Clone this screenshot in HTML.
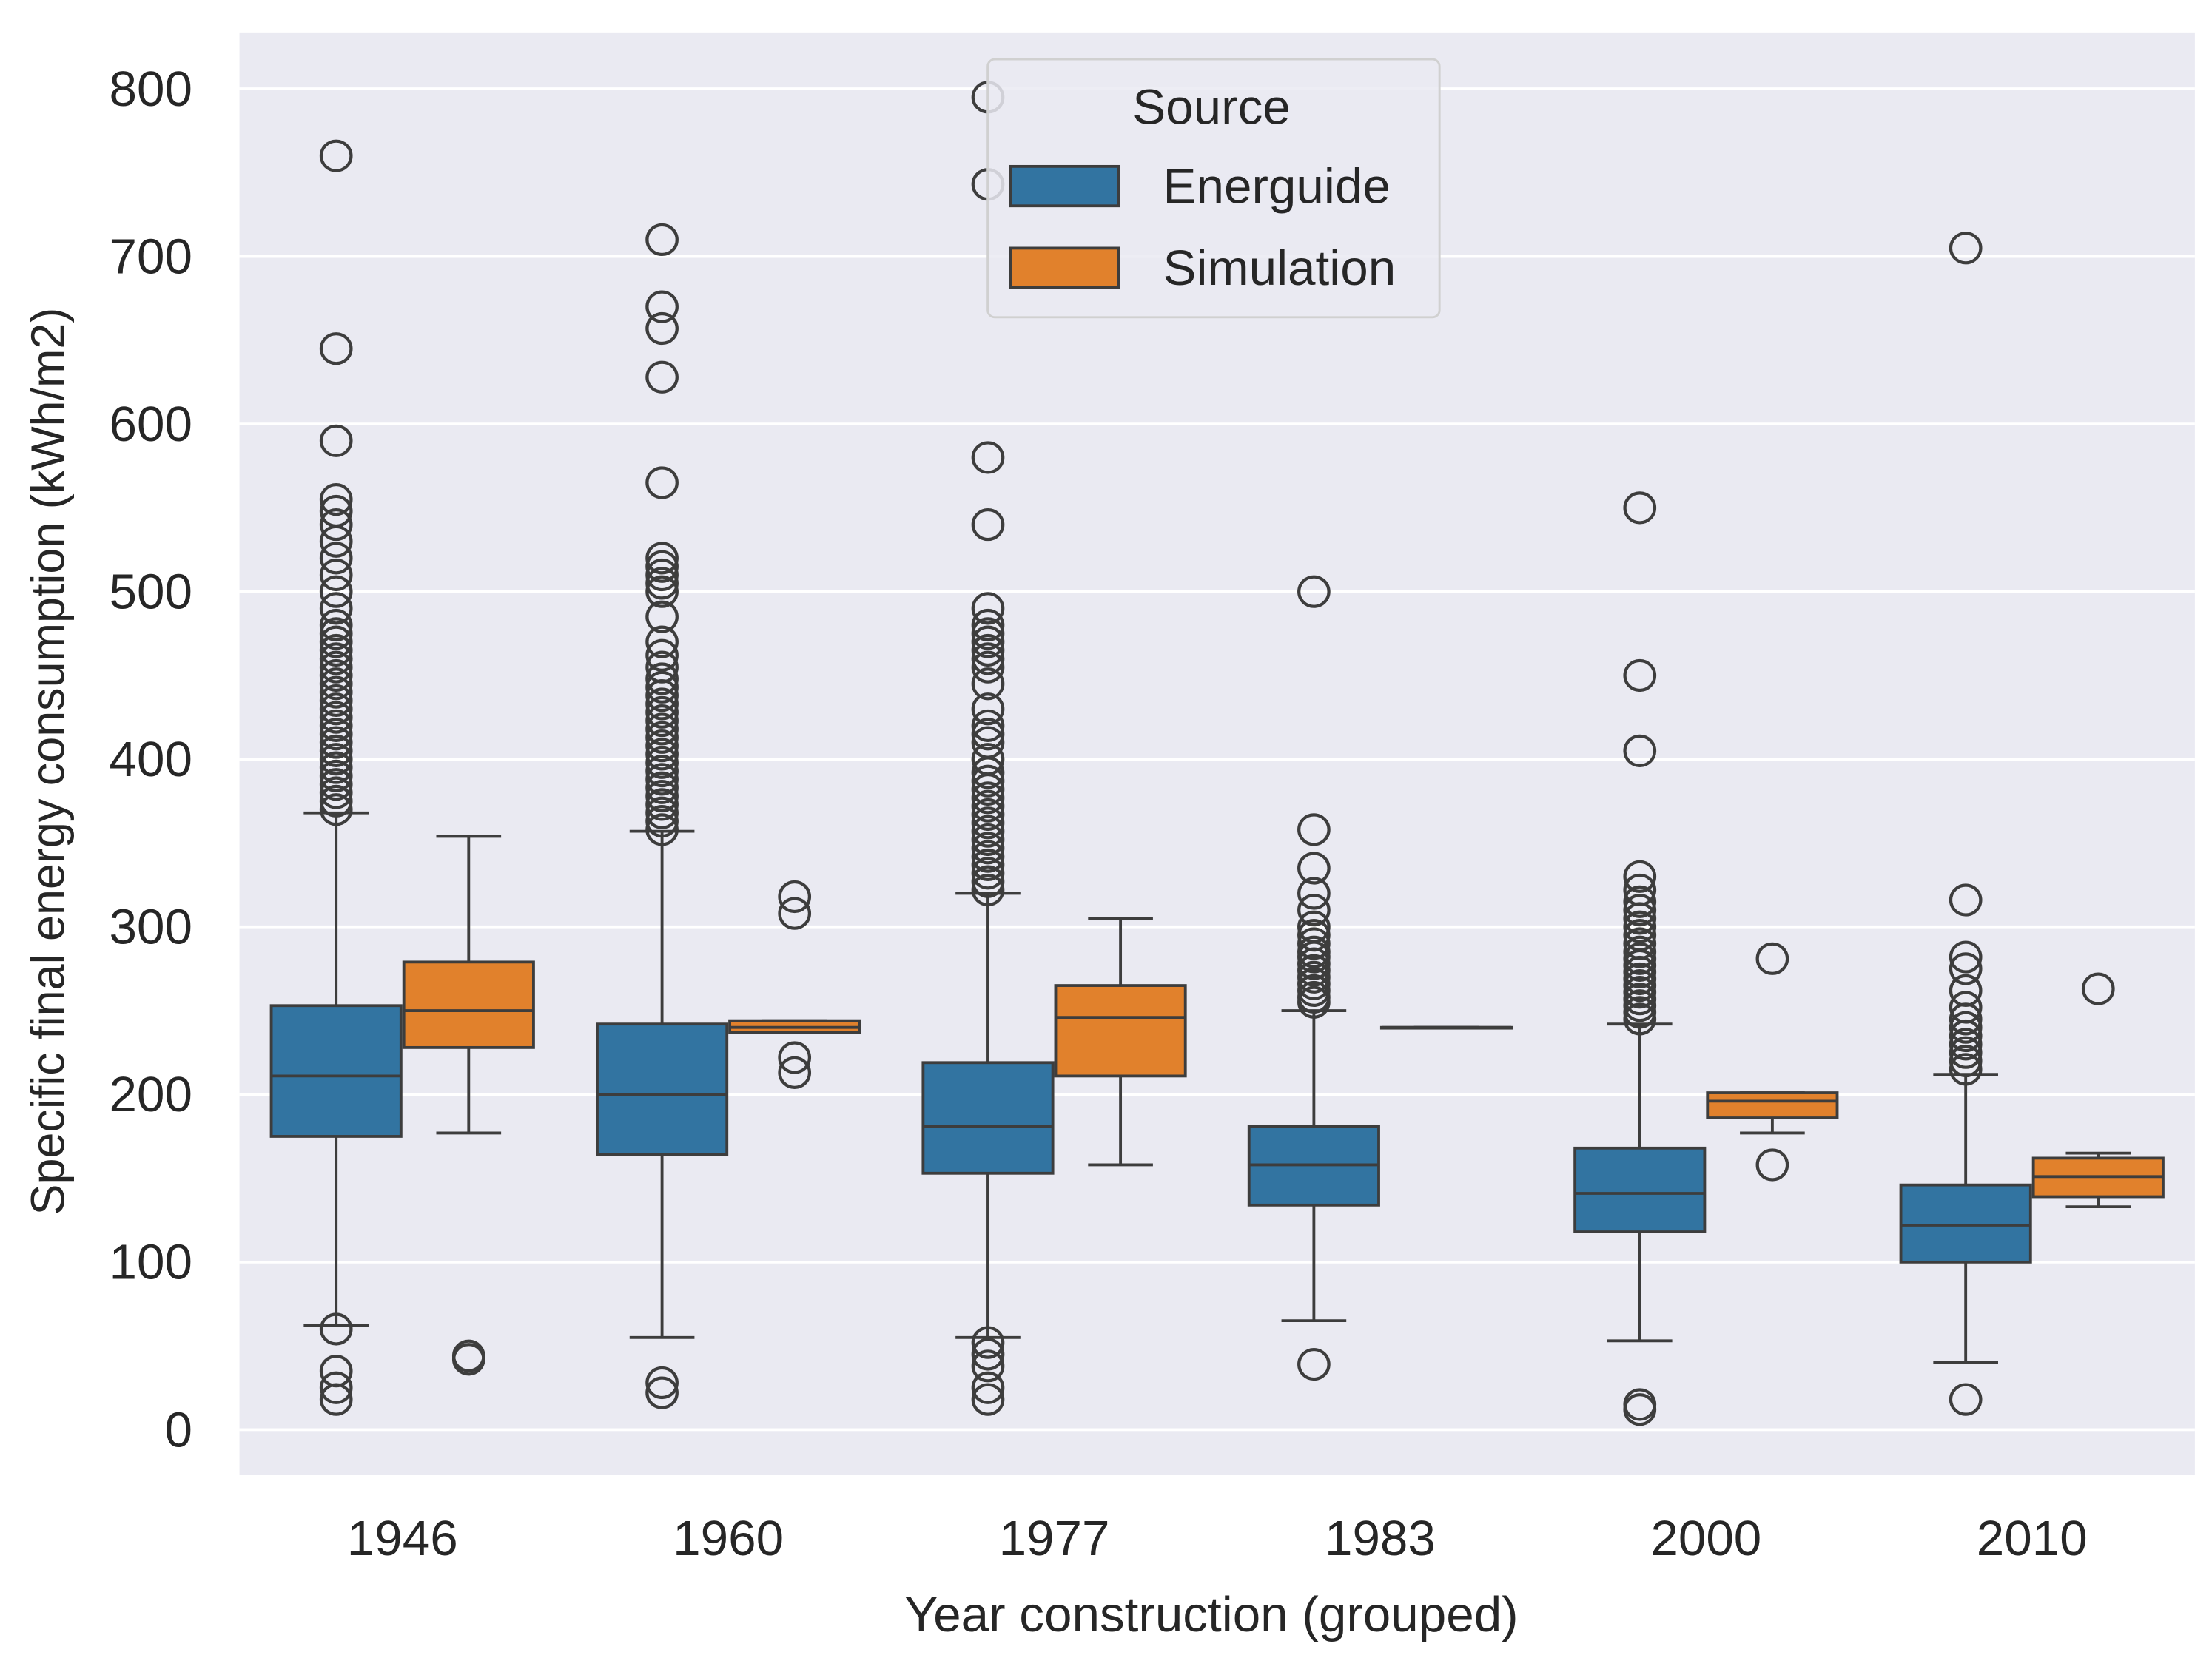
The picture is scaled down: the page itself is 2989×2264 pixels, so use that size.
<!DOCTYPE html>
<html><head><meta charset="utf-8"><style>
html,body{margin:0;padding:0;background:#fff;}
svg{display:block;font-family:"Liberation Sans",sans-serif;}
</style></head><body>
<svg id="chart" width="2989" height="2264" viewBox="0 0 1552 1188" preserveAspectRatio="none" xmlns="http://www.w3.org/2000/svg">
<rect x="168" y="23" width="1372" height="1023" fill="#eaeaf2"/>
<g id="grid"></g>
<g id="yticks"></g>
<g id="xticks"></g>
<g id="boxes"></g>
<text transform="translate(45,540) rotate(-90)" text-anchor="middle" font-size="33" fill="#262626">Specific final energy consumption (kWh/m2)</text>
<text x="850" y="1157" text-anchor="middle" font-size="35" fill="#262626">Year construction (grouped)</text>
<g>
<rect x="693" y="42" width="317" height="183" rx="5" fill="#eaeaf2" fill-opacity="0.85" stroke="#d0d0d0" stroke-width="1.5"/>
<text x="850" y="88" text-anchor="middle" font-size="35" fill="#262626">Source</text>
<rect x="709" y="118" width="76" height="28" fill="#3274a1" stroke="#3d3d3d" stroke-width="2"/>
<text x="816" y="144" font-size="35" fill="#262626">Energuide</text>
<rect x="709" y="176" width="76" height="28" fill="#e1812c" stroke="#3d3d3d" stroke-width="2"/>
<text x="816" y="202" font-size="35" fill="#262626">Simulation</text>
</g>
</svg>
<script>
const categories = ["1946","1960","1977","1983","2000","2010"];
const yTicks = [0,100,200,300,400,500,600,700,800];
// Energuide [whiskLow, q1, median, q3, whiskHigh]
const energuideStats = [
 [62,175,211,253,368],[55,164,200,242,357],[55,153,181,219,320],
 [65,134,158,181,250],[53,118,141,168,242],[40,100,122,146,212]];
const simulationStats = [
 [177,228,250,279,354],[237,237,240,244,244],[158,211,246,265,305],
 [240,240,240,240,240],[177,186,196,201,201],[133,139,151,162,165]];
const energuideOutliers = [
 [18,25,35,60,370,375,380,385,390,395,400,405,410,415,420,425,430,435,440,445,450,455,460,465,470,475,480,490,500,510,520,530,540,548,555,590,645,760],
 [22,28,358,363,368,373,378,383,388,393,398,403,408,413,418,423,428,433,438,443,448,455,462,470,485,500,505,510,515,520,565,628,657,670,710],
 [18,25,38,45,52,322,327,332,337,342,347,352,357,362,367,372,377,382,387,392,400,410,415,420,430,445,455,460,465,470,475,480,490,540,580,743,795],
 [39,255,258,262,266,270,274,278,282,285,290,295,300,310,320,335,358,500],
 [12,15,245,249,253,257,261,265,269,273,277,281,285,290,295,300,305,310,315,322,330,405,450,550],
 [18,215,220,225,230,235,240,245,252,262,275,282,316,705]];
const simulationOutliers = [[42,44],[213,222,308,318],[],[],[158,281],[263]];

const NS="http://www.w3.org/2000/svg";
const X0=168, BAND=228.67;
function yScale(v){return 1014 - v*(951/800);}
function xCenter(i){return X0 + BAND*(i+0.5);}
function mk(tag,attrs,parent){const e=document.createElementNS(NS,tag);for(const k in attrs)e.setAttribute(k,attrs[k]);parent.appendChild(e);return e;}
const grid=document.getElementById('grid'), yt=document.getElementById('yticks'), xt=document.getElementById('xticks'), boxes=document.getElementById('boxes');
yTicks.forEach(v=>{
 const l=mk('line',{x1:168,x2:1540,y1:yScale(v),y2:yScale(v),stroke:'#fff','stroke-width':2},grid);
 
 
 const t=mk('text',{x:135,y:yScale(v)+12,'text-anchor':'end','font-size':35,fill:'#262626'},yt);
 t.textContent=v;
 
 
});
categories.forEach((c,i)=>{
 const t=mk('text',{x:xCenter(i),y:1103,'text-anchor':'middle','font-size':35,fill:'#262626'},xt);
 t.textContent=c;
 
 
});
function drawBox(i,stats,outl,off,color,name){
 const cx=xCenter(i)+off, w=91, g=mk('g',{},boxes);
 
 
 const [lo,q1,md,q3,hi]=stats, col='#3d3d3d';
 mk('line',{x1:cx,x2:cx,y1:yScale(hi),y2:yScale(q3),stroke:col,'stroke-width':2},g);
 mk('line',{x1:cx,x2:cx,y1:yScale(q1),y2:yScale(lo),stroke:col,'stroke-width':2},g);
 mk('line',{x1:cx-w/4,x2:cx+w/4,y1:yScale(hi),y2:yScale(hi),stroke:col,'stroke-width':2},g);
 mk('line',{x1:cx-w/4,x2:cx+w/4,y1:yScale(lo),y2:yScale(lo),stroke:col,'stroke-width':2},g);
 mk('rect',{x:cx-w/2,y:yScale(q3),width:w,height:Math.max(yScale(q1)-yScale(q3),0.5),fill:color,stroke:col,'stroke-width':2},g);
 mk('line',{x1:cx-w/2,x2:cx+w/2,y1:yScale(md),y2:yScale(md),stroke:col,'stroke-width':2},g);
 outl.forEach(v=>{
  const c=mk('circle',{cx:cx,cy:yScale(v),r:10.5,fill:'none',stroke:col,'stroke-width':2.2},g);
  
  
 });
}
categories.forEach((c,i)=>{
 drawBox(i,energuideStats[i],energuideOutliers[i],-46.5,'#3274a1','energuide');
 drawBox(i,simulationStats[i],simulationOutliers[i],46.5,'#e1812c','simulation');
});
</script>
</body></html>
